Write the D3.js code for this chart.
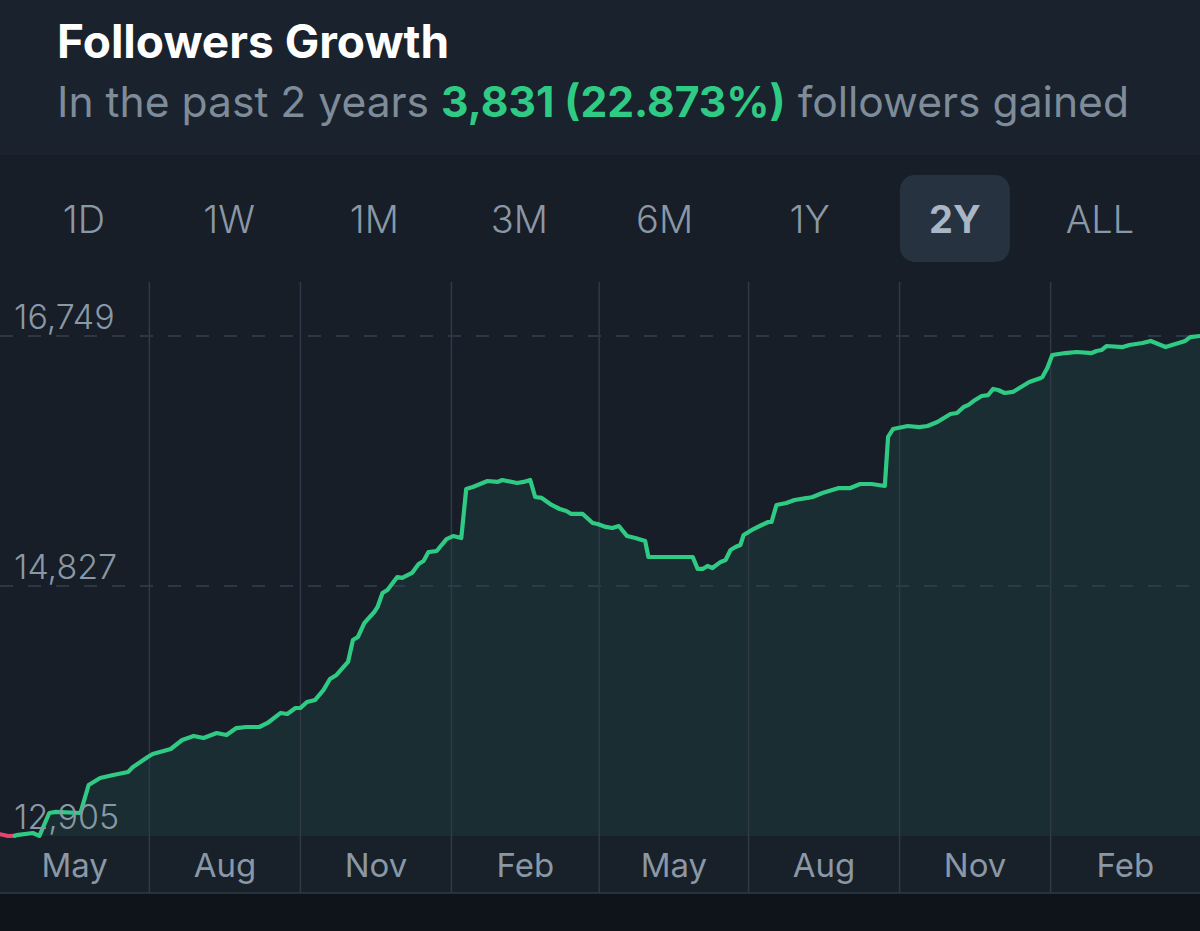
<!DOCTYPE html>
<html>
<head>
<meta charset="utf-8">
<script src="https://cdn.jsdelivr.net/npm/d3@7"></script>
<style>
  html, body { margin: 0; padding: 0; background: #171e28; }
  svg { display: block; }
</style>
</head>
<body>
<div id="chart"></div>
<script>
// Followers Growth · 2Y view

const RANGE = ["2022-04-01", "2024-04-01"];
const QUARTER_EDGES = ["2022-07-01", "2022-10-01", "2023-01-01", "2023-04-01",
  "2023-07-01", "2023-10-01", "2024-01-01"];
const QUARTER_LABELS = ["May", "Aug", "Nov", "Feb", "May", "Aug", "Nov", "Feb"];
const TABS = ["1D", "1W", "1M", "3M", "6M", "1Y", "2Y", "ALL"];
const ACTIVE_TAB = "2Y";
const Y_TICKS = [12905, 14827, 16749];
const GAINED = 3831, GAINED_PCT = "22.873%";

const DATES = [
  "2022-04-01", "2022-04-06", "2022-04-10", "2022-04-11", "2022-04-21", "2022-04-25",
  "2022-05-01", "2022-05-05", "2022-05-20", "2022-05-25", "2022-06-01", "2022-06-09",
  "2022-06-18", "2022-06-21", "2022-06-30", "2022-07-03", "2022-07-14", "2022-07-21",
  "2022-07-28", "2022-08-03", "2022-08-11", "2022-08-17", "2022-08-23", "2022-08-29",
  "2022-09-06", "2022-09-11", "2022-09-19", "2022-09-23", "2022-09-28", "2022-10-01",
  "2022-10-05", "2022-10-10", "2022-10-15", "2022-10-19", "2022-10-23", "2022-10-30",
  "2022-11-02", "2022-11-05", "2022-11-09", "2022-11-15", "2022-11-17", "2022-11-20",
  "2022-11-23", "2022-11-29", "2022-12-02", "2022-12-08", "2022-12-12", "2022-12-15",
  "2022-12-18", "2022-12-23", "2022-12-29", "2023-01-02", "2023-01-07", "2023-01-10",
  "2023-01-14", "2023-01-23", "2023-01-29", "2023-02-01", "2023-02-10", "2023-02-14",
  "2023-02-18", "2023-02-21", "2023-02-25", "2023-03-03", "2023-03-08", "2023-03-12",
  "2023-03-15", "2023-03-22", "2023-03-28", "2023-03-31", "2023-04-05", "2023-04-09",
  "2023-04-13", "2023-04-18", "2023-04-23", "2023-04-29", "2023-05-01", "2023-05-28",
  "2023-05-31", "2023-06-03", "2023-06-06", "2023-06-09", "2023-06-14", "2023-06-17",
  "2023-06-20", "2023-06-23", "2023-06-26", "2023-06-28", "2023-07-01", "2023-07-04",
  "2023-07-09", "2023-07-13", "2023-07-15", "2023-07-18", "2023-07-24", "2023-07-29",
  "2023-08-06", "2023-08-09", "2023-08-15", "2023-08-21", "2023-08-25", "2023-09-01",
  "2023-09-07", "2023-09-14", "2023-09-22", "2023-09-24", "2023-09-27", "2023-10-06",
  "2023-10-13", "2023-10-18", "2023-10-24", "2023-10-27", "2023-11-01", "2023-11-05",
  "2023-11-09", "2023-11-12", "2023-11-15", "2023-11-20", "2023-11-24", "2023-11-27",
  "2023-11-30", "2023-12-04", "2023-12-09", "2023-12-13", "2023-12-19", "2023-12-26",
  "2023-12-27", "2023-12-30", "2024-01-02", "2024-01-10", "2024-01-17", "2024-01-26",
  "2024-01-29", "2024-02-01", "2024-02-04", "2024-02-14", "2024-02-18", "2024-02-26",
  "2024-03-02", "2024-03-11", "2024-03-15", "2024-03-23", "2024-03-26", "2024-04-01"
];
const FOLLOWERS = [
  12918, 12905, 12907, 12912, 12928, 12906,
  13082, 13090, 13082, 13297, 13351, 13374,
  13397, 13435, 13512, 13535, 13574, 13643,
  13674, 13658, 13697, 13681, 13735, 13743,
  13743, 13774, 13851, 13843, 13889, 13889,
  13935, 13951, 14027, 14112, 14143, 14243,
  14412, 14435, 14543, 14627, 14666, 14773,
  14796, 14896, 14889, 14927, 14996, 15019,
  15088, 15096, 15188, 15211, 15196, 15573,
  15588, 15634, 15627, 15642, 15619, 15627,
  15642, 15511, 15504, 15450, 15419, 15404,
  15381, 15381, 15311, 15304, 15281, 15273,
  15288, 15211, 15196, 15173, 15050, 15050,
  14958, 14958, 14981, 14965, 15012, 15027,
  15104, 15127, 15142, 15219, 15242, 15265,
  15296, 15319, 15319, 15450, 15465, 15488,
  15504, 15511, 15542, 15565, 15580, 15580,
  15611, 15611, 15596, 15973, 16034, 16057,
  16049, 16057, 16088, 16111, 16149, 16157,
  16203, 16219, 16249, 16288, 16295, 16342,
  16334, 16311, 16319, 16349, 16395, 16426,
  16434, 16503, 16603, 16618, 16626, 16618,
  16634, 16641, 16672, 16664, 16680, 16695,
  16711, 16664, 16680, 16711, 16741, 16749
];
const RED_UNTIL = 2; // 起始几点低于起点值，画成红色

(() => {
  const W = 1200, H = 931;
  const PLOT_TOP = 282, AXIS_TOP = 836, AXIS_BOT = 893;
  const FONT = "Inter, 'Helvetica Neue', Arial, sans-serif";
  const C = {
    head: "#1a222d", bg: "#171e28", band: "#18202a", foot: "#0f141a",
    grid: "#2e3a48", dash: "#34404f", ink: "#ffffff", sub: "#7e8b98",
    tick: "#8a98a6", green: "#2fcb84", red: "#e4456d", fill: "#1a2d33", pill: "#263240"
  };

  const parse = d3.utcParse("%Y-%m-%d");
  const data = DATES.map((d, i) => ({ date: parse(d), v: FOLLOWERS[i] }));

  const x = d3.scaleUtc().domain(RANGE.map(parse)).range([0, W]);
  const y = d3.scaleLinear().domain([Y_TICKS[0], Y_TICKS[2]]).range([AXIS_TOP, 336]);

  const svg = d3.select("#chart").append("svg")
    .attr("width", W).attr("height", H).attr("viewBox", `0 0 ${W} ${H}`);

  // 背景分区
  svg.append("rect").attr("width", W).attr("height", H).attr("fill", C.bg);
  svg.append("rect").attr("width", W).attr("height", 155).attr("fill", C.head);
  svg.append("rect").attr("y", AXIS_TOP).attr("width", W).attr("height", AXIS_BOT - AXIS_TOP).attr("fill", C.band);
  svg.append("rect").attr("y", AXIS_BOT).attr("width", W).attr("height", H - AXIS_BOT).attr("fill", C.foot);

  // 标题
  svg.append("text").attr("x", 57).attr("y", 58)
    .attr("style", `font:700 46px ${FONT};fill:${C.ink}`)
    .text("Followers Growth");
  const sub = svg.append("text").attr("x", 57).attr("y", 117)
    .attr("style", `font:400 42.6px ${FONT};fill:${C.sub}`);
  sub.append("tspan").text("In the past 2 years ");
  sub.append("tspan").attr("style", `font-weight:700;fill:${C.green}`)
    .text(`${d3.format(",")(GAINED)} (${GAINED_PCT})`);
  sub.append("tspan").text(" followers gained");

  // 时间段切换
  const tabX = d3.scalePoint().domain(TABS).range([84, 1100]);
  svg.append("rect")
    .attr("x", tabX(ACTIVE_TAB) - 55).attr("y", 175).attr("width", 110).attr("height", 87)
    .attr("rx", 15).attr("fill", C.pill);
  TABS.forEach(t => {
    svg.append("text").attr("x", tabX(t)).attr("y", 233)
      .attr("text-anchor", "middle")
      .attr("style", `font:${t === ACTIVE_TAB ? 700 : 300} 38px ${FONT};fill:${t === ACTIVE_TAB ? "#a9b6c3" : C.tick}`)
      .text(t);
  });

  // 面积
  const area = d3.area().x(d => x(d.date)).y0(AXIS_TOP).y1(d => y(d.v));
  svg.append("path").attr("d", area(data)).attr("fill", C.fill);

  // 虚线参考
  Y_TICKS.slice(1).forEach(v => {
    svg.append("line").attr("x1", 0).attr("x2", W).attr("y1", y(v)).attr("y2", y(v))
      .attr("stroke", C.dash).attr("stroke-width", 1.5).attr("stroke-dasharray", "13 15");
  });

  // 季度竖线
  const edges = QUARTER_EDGES.map(parse);
  edges.forEach(d => {
    svg.append("line").attr("x1", x(d)).attr("x2", x(d)).attr("y1", PLOT_TOP).attr("y2", AXIS_BOT)
      .attr("stroke", C.grid).attr("stroke-width", 1.5);
  });
  svg.append("line").attr("x1", 0).attr("x2", W).attr("y1", AXIS_BOT).attr("y2", AXIS_BOT)
    .attr("stroke", C.grid).attr("stroke-width", 1.5);

  // 折线
  const line = d3.line().x(d => x(d.date)).y(d => y(d.v));
  svg.append("path").attr("d", line(data.slice(0, RED_UNTIL + 1)))
    .attr("fill", "none").attr("stroke", C.red).attr("stroke-width", 4)
    .attr("stroke-linejoin", "round").attr("stroke-linecap", "round");
  svg.append("path").attr("d", line(data.slice(RED_UNTIL)))
    .attr("fill", "none").attr("stroke", C.green).attr("stroke-width", 4.2)
    .attr("stroke-linejoin", "round").attr("stroke-linecap", "round");

  // Y 标签
  Y_TICKS.forEach(v => {
    svg.append("text").attr("x", 14).attr("y", y(v) - 7)
      .attr("style", `font:300 34px ${FONT};fill:${C.tick}`)
      .text(d3.format(",")(v));
  });

  // X 标签（季度中点）
  const bounds = [x.domain()[0], ...edges, x.domain()[1]];
  QUARTER_LABELS.forEach((lab, i) => {
    const cx = (x(bounds[i]) + x(bounds[i + 1])) / 2;
    svg.append("text").attr("x", cx).attr("y", 877)
      .attr("text-anchor", "middle")
      .attr("style", `font:400 33px ${FONT};fill:${C.tick}`)
      .text(lab);
  });
})();
</script>
</body>
</html>
